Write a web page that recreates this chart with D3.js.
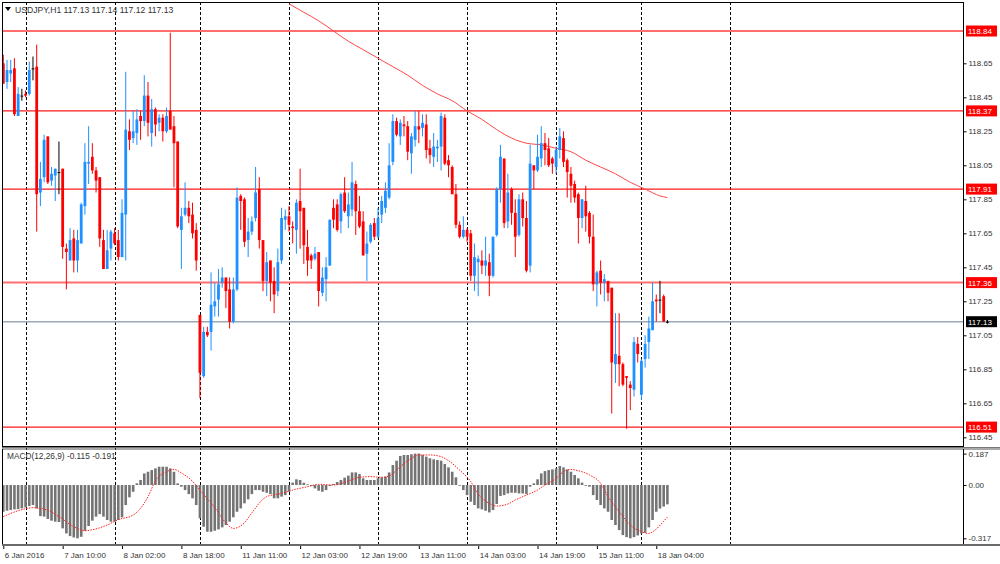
<!DOCTYPE html>
<html>
<head>
<meta charset="utf-8">
<script src="https://cdn.jsdelivr.net/npm/d3@7"></script>
<style>
body { margin: 0; background: #fff; }
svg text { font-family: "Liberation Sans", Arial, sans-serif; font-size: 8px; fill: #333; }
</style>
</head>
<body>
<svg id="chart" width="1000" height="564"></svg>
<script>
// USDJPY H1, 6 Jan 18:00 .. 18 Jan 07:00 (one entry per hourly bar)
var opens = [118.65,118.54,118.59,118.62,118.34,118.46,118.47,118.47,118.62,118.63,
  117.89,117.98,118.22,117.96,117.99,118.01,118.03,117.56,117.49,117.62,
  117.49,117.59,117.81,118.06,118.10,118.02,117.98,117.61,117.44,117.56,
  117.65,117.61,117.51,117.76,118.25,118.21,118.24,118.34,118.31,118.46,
  118.24,118.38,118.30,118.33,118.25,118.37,118.28,118.19,117.67,117.76,
  117.80,117.76,117.67,117.17,116.81,117.07,117.07,117.22,117.26,117.36,
  117.39,117.32,117.13,117.32,117.87,117.85,117.61,117.66,117.74,117.91,
  117.61,117.37,117.49,117.37,117.31,117.49,117.73,117.75,117.69,117.67,
  117.84,117.80,117.57,117.52,117.50,117.54,117.30,117.38,117.46,117.80,
  117.82,117.72,117.89,117.75,117.79,117.94,117.78,117.72,117.53,117.60,
  117.71,117.63,117.76,117.80,117.86,118.07,118.31,118.22,118.29,118.28,
  118.12,118.20,118.28,118.27,118.29,118.15,118.10,118.15,118.16,118.33,
  118.08,118.04,117.88,117.70,117.63,117.67,117.65,117.40,117.48,117.49,
  117.46,117.48,117.40,117.64,117.91,118.09,117.72,117.91,117.77,117.64,
  117.85,117.74,117.46,118.05,118.02,118.09,118.18,118.15,118.09,118.04,
  118.14,118.21,118.08,118.00,117.94,117.88,117.74,117.84,117.77,117.63,
  117.35,117.43,117.36,117.37,117.33,116.88,116.93,116.88,116.81,116.76,
  116.73,117.00,116.70,116.91,117.01,117.08,117.26,117.26,117.28,117.13];
var highs = [118.70,118.67,118.67,118.68,118.51,118.50,118.49,118.66,118.69,118.76,
  118.07,118.23,118.22,118.04,118.03,118.19,118.03,117.59,117.68,117.67,
  117.67,117.83,118.18,118.28,118.18,118.04,117.98,117.67,117.67,117.67,
  117.68,117.67,117.85,118.60,118.32,118.37,118.38,118.37,118.58,118.54,
  118.44,118.39,118.35,118.35,118.39,118.83,118.34,118.19,117.80,117.95,
  117.84,117.83,117.71,117.17,117.10,117.10,117.42,117.36,117.44,117.45,
  117.39,117.39,117.39,117.92,117.88,117.86,117.74,117.75,118.04,117.98,
  117.61,117.54,117.49,117.45,117.56,117.80,117.79,117.81,117.72,117.85,
  118.03,117.80,117.67,117.53,117.57,117.54,117.45,117.51,117.73,117.85,
  117.85,117.89,117.98,117.89,118.07,117.96,117.87,117.78,117.66,117.71,
  117.74,117.80,117.87,117.95,118.18,118.35,118.33,118.32,118.34,118.31,
  118.24,118.37,118.37,118.35,118.35,118.20,118.24,118.20,118.36,118.35,
  118.11,118.05,117.94,117.72,117.75,117.68,117.67,117.59,117.52,117.55,
  117.63,117.53,117.63,117.92,118.17,118.09,118.00,117.92,117.85,117.88,
  117.89,117.84,118.17,118.05,118.23,118.28,118.24,118.21,118.10,118.16,
  118.27,118.25,118.09,118.04,117.96,117.89,117.85,117.93,117.78,117.76,
  117.43,117.49,117.41,117.37,117.33,117.18,117.18,116.89,116.81,116.78,
  117.04,117.04,116.91,117.05,117.16,117.36,117.29,117.37,117.29,117.14];
var lows = [118.53,118.50,118.54,118.34,118.34,118.43,118.45,118.46,118.55,117.66,
  117.81,117.95,117.94,117.93,117.84,117.88,117.50,117.32,117.49,117.42,
  117.42,117.59,117.76,117.94,118.00,117.89,117.57,117.44,117.44,117.49,
  117.58,117.49,117.51,117.49,118.14,118.18,118.17,118.20,118.28,118.22,
  118.16,118.22,118.25,118.19,118.24,118.26,117.92,117.68,117.44,117.75,
  117.71,117.62,117.43,116.68,116.80,117.04,116.96,117.16,117.16,117.33,
  117.21,117.09,117.12,117.31,117.67,117.57,117.51,117.64,117.72,117.56,
  117.31,117.28,117.25,117.18,117.28,117.47,117.67,117.66,117.59,117.53,
  117.56,117.47,117.40,117.44,117.49,117.22,117.28,117.25,117.46,117.68,
  117.66,117.65,117.77,117.68,117.75,117.64,117.68,117.52,117.37,117.59,
  117.61,117.62,117.71,117.77,117.85,118.05,118.22,118.17,118.22,118.08,
  118.00,118.16,118.18,118.22,118.09,118.06,118.04,118.07,118.02,118.05,
  117.98,117.88,117.68,117.62,117.62,117.60,117.37,117.31,117.28,117.41,
  117.40,117.28,117.39,117.63,117.83,117.68,117.68,117.70,117.51,117.63,
  117.69,117.42,117.42,117.91,118.01,118.04,118.05,118.04,118.00,118.00,
  118.09,118.04,117.86,117.83,117.83,117.59,117.68,117.66,117.59,117.31,
  117.22,117.29,117.25,117.25,116.59,116.77,116.75,116.75,116.50,116.61,
  116.69,116.89,116.67,116.86,116.91,117.08,117.13,117.18,117.13,117.12];
var closes = [118.53,118.61,118.61,118.35,118.47,118.46,118.46,118.61,118.62,117.88,
  117.97,118.20,117.95,118.00,118.03,118.01,117.57,117.54,117.61,117.49,
  117.61,117.82,118.07,118.07,118.02,117.96,117.62,117.44,117.55,117.66,
  117.59,117.51,117.77,118.26,118.20,118.25,118.32,118.31,118.46,118.30,
  118.38,118.29,118.33,118.25,118.34,118.26,118.18,117.69,117.75,117.80,
  117.75,117.65,117.49,116.83,117.07,117.05,117.23,117.25,117.35,117.39,
  117.31,117.13,117.32,117.86,117.84,117.60,117.66,117.72,117.89,117.61,
  117.37,117.48,117.36,117.29,117.48,117.74,117.75,117.70,117.68,117.83,
  117.78,117.58,117.49,117.49,117.53,117.31,117.39,117.45,117.73,117.73,
  117.67,117.88,117.78,117.82,117.95,117.78,117.69,117.52,117.59,117.70,
  117.63,117.74,117.84,117.90,118.05,118.31,118.23,118.30,118.28,118.13,
  118.22,118.28,118.26,118.30,118.14,118.11,118.16,118.16,118.34,118.06,
  118.05,117.88,117.70,117.63,117.67,117.63,117.40,117.51,117.50,117.46,
  117.49,117.40,117.63,117.91,118.10,117.71,117.89,117.77,117.63,117.85,
  117.74,117.43,118.06,118.02,118.10,118.18,118.14,118.05,118.06,118.14,
  118.22,118.07,118.01,117.93,117.86,117.74,117.85,117.75,117.63,117.35,
  117.42,117.36,117.38,117.30,116.89,116.94,116.88,116.76,116.80,116.74,
  117.01,116.94,116.90,117.00,117.09,117.25,117.25,117.26,117.13,117.13];

// moving average (red line), read at some bars
var maBars = [77,81,85,89,93,97,101,105,109,113,117,121,125,129,133,137,141,145,149,153,157,161,165,169,173,177,179];
var maVals = [119.00,118.95,118.90,118.84,118.78,118.73,118.68,118.63,118.58,118.52,118.47,118.43,118.37,118.32,118.26,118.21,118.18,118.17,118.15,118.13,118.08,118.04,118.00,117.95,117.91,117.87,117.86];

// MACD(12,26,9) main (histogram), one per bar
var macd = [-0.159,-0.153,-0.149,-0.145,-0.143,-0.139,-0.133,-0.125,-0.119,-0.139,
  -0.185,-0.188,-0.202,-0.212,-0.218,-0.220,-0.258,-0.288,-0.304,-0.312,
  -0.317,-0.308,-0.272,-0.244,-0.212,-0.188,-0.173,-0.188,-0.208,-0.218,
  -0.218,-0.208,-0.192,-0.119,-0.073,-0.040,0.010,0.030,0.069,0.079,
  0.089,0.099,0.109,0.109,0.109,0.099,0.079,0.010,-0.010,-0.030,
  -0.054,-0.079,-0.119,-0.198,-0.248,-0.278,-0.278,-0.272,-0.264,-0.252,
  -0.238,-0.218,-0.192,-0.159,-0.139,-0.109,-0.085,-0.054,-0.030,-0.030,
  -0.040,-0.046,-0.054,-0.079,-0.079,-0.069,-0.060,-0.040,0.014,0.034,
  0.030,0.014,0.004,-0.006,-0.020,-0.034,-0.040,-0.030,-0.006,0.006,
  0.018,0.030,0.044,0.056,0.075,0.075,0.065,0.040,0.030,0.030,
  0.030,0.040,0.046,0.050,0.075,0.119,0.145,0.173,0.179,0.179,
  0.183,0.187,0.187,0.179,0.169,0.159,0.153,0.149,0.145,0.125,
  0.105,0.079,0.046,-0.004,-0.030,-0.060,-0.099,-0.119,-0.139,-0.145,
  -0.153,-0.163,-0.149,-0.113,-0.065,-0.060,-0.050,-0.046,-0.046,-0.050,
  -0.050,-0.054,-0.010,0.010,0.034,0.069,0.083,0.089,0.093,0.099,
  0.113,0.105,0.093,0.079,0.060,0.040,0.014,-0.002,-0.010,-0.060,
  -0.089,-0.119,-0.139,-0.159,-0.208,-0.238,-0.268,-0.298,-0.310,-0.317,
  -0.310,-0.300,-0.288,-0.284,-0.252,-0.208,-0.159,-0.140,-0.128,-0.115];

// signal line (dotted), read at some bars
var sigBars = [0,4,8,12,15,19,22,24,28,31,35,39,41,44,46,48,51,53,57,60,62,65,67,71,75,78,82,85,89,93,96,99,102,104,107,110,112,115,118,120,123,126,128,131,133,136,138,141,144,146,149,151,153,155,158,161,163,166,169,172,174,176,178,179];
var sigVals = [-0.188,-0.153,-0.135,-0.150,-0.188,-0.248,-0.272,-0.266,-0.238,-0.206,-0.179,-0.070,0.025,0.079,0.093,0.072,0.022,-0.030,-0.135,-0.225,-0.258,-0.225,-0.165,-0.069,-0.050,-0.030,-0.010,0.004,0.000,0.024,0.046,0.050,0.046,0.054,0.109,0.159,0.179,0.179,0.169,0.145,0.089,0.020,-0.055,-0.109,-0.125,-0.113,-0.089,-0.060,-0.030,0.000,0.040,0.079,0.093,0.085,0.060,0.010,-0.069,-0.159,-0.238,-0.278,-0.288,-0.262,-0.215,-0.191];

var levelPrices = [118.84, 118.37, 117.91, 117.36, 116.51];
var bidPrice = 117.13;
var priceTicks = [118.65,118.45,118.25,118.05,117.85,117.65,117.45,117.25,117.05,116.85,116.65,116.45];
var macdTicks = [0.187, 0, -0.317];
var macdTickLabels = ['0.187', '0.00', '-0.317'];
var timeBars = [0,16,32,48,64,80,96,112,128,144,160,176];
var timeLabels = ['6 Jan 2016','7 Jan 10:00','8 Jan 02:00','8 Jan 18:00','11 Jan 11:00','12 Jan 03:00',
  '12 Jan 19:00','13 Jan 11:00','14 Jan 03:00','14 Jan 19:00','15 Jan 11:00','18 Jan 04:00'];
var dayBars = [6,30,53,77,101,125,149,172,196]; // midnight bars (period separators)

var svg = d3.select('#chart');
var L = 2, R = 963, mainTop = 2, mainBot = 446, subTop = 449, subBot = 544;
var fontFam = '"Liberation Sans", Arial, sans-serif';

var x = d3.scaleLinear().domain([0, 259]).range([3.3, 964.2]);
var y = d3.scaleLinear().domain([116.45, 118.65]).range([437.3, 63.3]);
var ym = d3.scaleLinear().domain([-0.317, 0.187]).range([538.3, 453.6]);

var defs = svg.append('defs');
defs.append('clipPath').attr('id', 'clipMain').append('rect')
    .attr('x', L).attr('y', mainTop).attr('width', R - L).attr('height', mainBot - mainTop);
defs.append('clipPath').attr('id', 'clipSub').append('rect')
    .attr('x', L).attr('y', subTop).attr('width', R - L).attr('height', subBot - subTop);

//period separators, through both windows
svg.append('g').selectAll('line').data(dayBars).enter().append('line')
    .attr('x1', function (d) { return Math.round(x(d)) + 0.5; })
    .attr('x2', function (d) { return Math.round(x(d)) + 0.5; })
    .attr('y1', mainTop).attr('y2', subBot)
    .attr('stroke', '#000').attr('stroke-width', 1).attr('stroke-dasharray', '3,2');

var main = svg.append('g').attr('clip-path', 'url(#clipMain)');

//horizontal levels
var isWide = function (p) { return p == 118.84 || p == 117.36; };
main.selectAll('.level').data(levelPrices).enter().append('line')
    .attr('x1', L).attr('x2', R)
    .attr('y1', function (d) { return y(d); }).attr('y2', function (d) { return y(d); })
    .attr('stroke', function (d) { return isWide(d) ? '#ff6e6e' : '#ff1a1a'; })
    .attr('stroke-width', function (d) { return isWide(d) ? 2 : 1.2; });
main.append('line').attr('x1', L).attr('x2', R)
    .attr('y1', y(bidPrice)).attr('y2', y(bidPrice))
    .attr('stroke', '#9aa8b8').attr('stroke-width', 1.4);

//moving average
var maLine = d3.line()
    .x(function (d) { return x(d[0]); })
    .y(function (d) { return y(d[1]); })
    .curve(d3.curveMonotoneX);
main.append('path').datum(d3.zip(maBars, maVals))
    .attr('d', maLine).attr('fill', 'none').attr('stroke', '#ff4848').attr('stroke-width', 1);

//candles
var candleColor = function (i) {
    if (opens[i] == closes[i]) return '#000';
    return closes[i] > opens[i] ? '#1e90ff' : '#ff0000';
};
var idx = d3.range(opens.length);
var candles = main.selectAll('.candle').data(idx).enter().append('g');
candles.append('line')
    .attr('x1', function (i) { return x(i); }).attr('x2', function (i) { return x(i); })
    .attr('y1', function (i) { return y(highs[i]); }).attr('y2', function (i) { return y(lows[i]); })
    .attr('stroke', candleColor).attr('stroke-width', 1);
candles.append('rect')
    .attr('x', function (i) { return x(i) - 1.4; })
    .attr('width', 2.8)
    .attr('y', function (i) { return y(Math.max(opens[i], closes[i])); })
    .attr('height', function (i) { return Math.max(1, Math.abs(y(opens[i]) - y(closes[i]))); })
    .attr('fill', candleColor);

//macd window
var sub = svg.append('g').attr('clip-path', 'url(#clipSub)');
sub.selectAll('.hist').data(idx).enter().append('rect')
    .attr('x', function (i) { return x(i) - 1.3; })
    .attr('width', 2.6)
    .attr('y', function (i) { return Math.min(ym(0), ym(macd[i])); })
    .attr('height', function (i) { return Math.max(0.8, Math.abs(ym(macd[i]) - ym(0))); })
    .attr('fill', '#747474');
var sigLine = d3.line()
    .x(function (d) { return x(d[0]); })
    .y(function (d) { return ym(d[1]); })
    .curve(d3.curveMonotoneX);
sub.append('path').datum(d3.zip(sigBars, sigVals))
    .attr('d', sigLine).attr('fill', 'none').attr('stroke', '#ff2020')
    .attr('stroke-width', 1).attr('stroke-dasharray', '1.5,1.2');

//frames
svg.append('rect').attr('x', L + 0.5).attr('y', mainTop + 0.5).attr('width', R - L).attr('height', mainBot - mainTop)
    .attr('fill', 'none').attr('stroke', '#000');
svg.append('line').attr('x1', L).attr('x2', 1000).attr('y1', 447.5).attr('y2', 447.5).attr('stroke', '#777').attr('stroke-width', 1);
svg.append('line').attr('x1', L).attr('x2', 1000).attr('y1', 449).attr('y2', 449).attr('stroke', '#555').attr('stroke-width', 1);
svg.append('line').attr('x1', L + 0.5).attr('x2', L + 0.5).attr('y1', subTop).attr('y2', subBot).attr('stroke', '#000');
svg.append('line').attr('x1', R + 0.5).attr('x2', R + 0.5).attr('y1', subTop).attr('y2', subBot).attr('stroke', '#000');
svg.append('line').attr('x1', L).attr('x2', 1000).attr('y1', 545).attr('y2', 545).attr('stroke', '#6a6a6a').attr('stroke-width', 2);

//price axis
var yAxis = d3.axisRight(y).tickValues(priceTicks).tickFormat(d3.format('.2f')).tickSize(3).tickPadding(2);
var ya = svg.append('g').attr('transform', 'translate(' + (R + 0.5) + ',0)').call(yAxis);
ya.select('.domain').remove();
ya.selectAll('text').style('font-family', fontFam).style('font-size', '8px').attr('fill', '#333');
ya.selectAll('line').attr('stroke', '#000');

var mAxis = d3.axisRight(ym).tickValues(macdTicks)
    .tickFormat(function (d, i) { return macdTickLabels[i]; }).tickSize(3).tickPadding(2);
var ma = svg.append('g').attr('transform', 'translate(' + (R + 0.5) + ',0)').call(mAxis);
ma.select('.domain').remove();
ma.selectAll('text').style('font-family', fontFam).style('font-size', '8px').attr('fill', '#333');

//level and bid labels on the price scale
var tags = svg.append('g');
var allTags = levelPrices.concat([bidPrice]);
tags.selectAll('rect').data(allTags).enter().append('rect')
    .attr('x', R + 3).attr('width', 31).attr('height', 11)
    .attr('y', function (d) { return y(d) - 5.5; })
    .attr('fill', function (d) { return d == bidPrice ? '#000' : '#ff0000'; });
tags.selectAll('text').data(allTags).enter().append('text')
    .attr('x', R + 5).attr('y', function (d) { return y(d) + 3; })
    .style('fill', '#fff').text(function (d) { return d.toFixed(2); });

//time axis
var xAxis = d3.axisBottom(x).tickValues(timeBars)
    .tickFormat(function (d, i) { return timeLabels[i]; }).tickSize(3).tickPadding(1);
var xa = svg.append('g').attr('transform', 'translate(0,' + 546 + ')').call(xAxis);
xa.select('.domain').remove();
xa.selectAll('line').attr('stroke', '#000');
xa.selectAll('text').attr('text-anchor', 'start').attr('dx', '1').attr('dy', '0.95em')
    .style('font-family', fontFam).style('font-size', '8px').attr('fill', '#333');

//titles
var last = opens.length - 1;
svg.append('path').attr('d', 'M5,7 L11,7 L8,11 Z').attr('fill', '#000');
svg.append('text').attr('x', 15).attr('y', 13).style('font-size', '8.6px')
    .text('USDJPY,H1  ' + [opens[last], highs[last], lows[last], closes[last]].map(function (d) { return d.toFixed(2); }).join(' '));
svg.append('text').attr('x', 7).attr('y', 459).style('font-size', '8.3px')
    .text('MACD(12,26,9) ' + macd[last].toFixed(3) + ' ' + sigVals[sigVals.length - 1].toFixed(3));
</script>
</body>
</html>
